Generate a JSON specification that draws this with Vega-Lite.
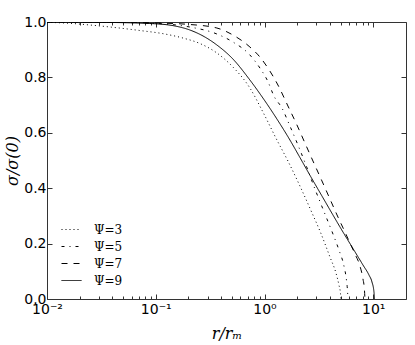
{
  "$schema": "https://vega.github.io/schema/vega-lite/v6.json",
  "width": 359,
  "height": 277,
  "autosize": {"type": "none"},
  "padding": {"left": 47, "top": 22, "right": 9, "bottom": 46},
  "background": "white",
  "config": {
    "view": {"stroke": null},
    "axis": {
      "grid": false,
      "labelFont": "DejaVu Sans",
      "labelFontSize": 14,
      "labelColor": "black",
      "labelFlush": false,
      "labelOverlap": false,
      "domainColor": "#333",
      "domainWidth": 1,
      "tickColor": "#333",
      "tickWidth": 1,
      "titleFont": "DejaVu Serif",
      "titleFontStyle": "italic",
      "titleFontWeight": "normal",
      "titleFontSize": 16,
      "titleColor": "black"
    }
  },
  "datasets": {
    "curves": [
      {"psi": "Ψ=3", "r": 0.01, "s": 0.9989},
      {"psi": "Ψ=3", "r": 0.01621, "s": 0.9953},
      {"psi": "Ψ=3", "r": 0.02475, "s": 0.9892},
      {"psi": "Ψ=3", "r": 0.04204, "s": 0.9801},
      {"psi": "Ψ=3", "r": 0.07142, "s": 0.9693},
      {"psi": "Ψ=3", "r": 0.1213, "s": 0.9567},
      {"psi": "Ψ=3", "r": 0.1775, "s": 0.9422},
      {"psi": "Ψ=3", "r": 0.2545, "s": 0.9224},
      {"psi": "Ψ=3", "r": 0.3648, "s": 0.8881},
      {"psi": "Ψ=3", "r": 0.5122, "s": 0.8375},
      {"psi": "Ψ=3", "r": 0.734, "s": 0.7617},
      {"psi": "Ψ=3", "r": 0.9667, "s": 0.6751},
      {"psi": "Ψ=3", "r": 1.3004, "s": 0.574},
      {"psi": "Ψ=3", "r": 1.642, "s": 0.4982},
      {"psi": "Ψ=3", "r": 2.117, "s": 0.4079},
      {"psi": "Ψ=3", "r": 2.7882, "s": 0.3032},
      {"psi": "Ψ=3", "r": 3.234, "s": 0.2455},
      {"psi": "Ψ=3", "r": 3.9974, "s": 0.1516},
      {"psi": "Ψ=3", "r": 4.539, "s": 0.0939},
      {"psi": "Ψ=3", "r": 4.836, "s": 0.0505},
      {"psi": "Ψ=3", "r": 4.992, "s": 0.0217},
      {"psi": "Ψ=3", "r": 5.046, "s": 0.0},

      {"psi": "Ψ=5", "r": 0.01, "s": 1.0},
      {"psi": "Ψ=5", "r": 0.03059, "s": 0.9993},
      {"psi": "Ψ=5", "r": 0.08824, "s": 0.9957},
      {"psi": "Ψ=5", "r": 0.2059, "s": 0.9819},
      {"psi": "Ψ=5", "r": 0.3648, "s": 0.9567},
      {"psi": "Ψ=5", "r": 0.5122, "s": 0.9278},
      {"psi": "Ψ=5", "r": 0.734, "s": 0.8809},
      {"psi": "Ψ=5", "r": 0.9072, "s": 0.8339},
      {"psi": "Ψ=5", "r": 1.0747, "s": 0.7852},
      {"psi": "Ψ=5", "r": 1.2204, "s": 0.7329},
      {"psi": "Ψ=5", "r": 1.4456, "s": 0.6895},
      {"psi": "Ψ=5", "r": 1.7126, "s": 0.6245},
      {"psi": "Ψ=5", "r": 2.0295, "s": 0.556},
      {"psi": "Ψ=5", "r": 2.4034, "s": 0.4838},
      {"psi": "Ψ=5", "r": 2.9088, "s": 0.3971},
      {"psi": "Ψ=5", "r": 3.595, "s": 0.3069},
      {"psi": "Ψ=5", "r": 4.26, "s": 0.2347},
      {"psi": "Ψ=5", "r": 4.836, "s": 0.1769},
      {"psi": "Ψ=5", "r": 5.377, "s": 0.1191},
      {"psi": "Ψ=5", "r": 5.669, "s": 0.0686},
      {"psi": "Ψ=5", "r": 5.79, "s": 0.0325},
      {"psi": "Ψ=5", "r": 5.851, "s": 0.0},

      {"psi": "Ψ=7", "r": 0.01, "s": 1.0},
      {"psi": "Ψ=7", "r": 0.03059, "s": 0.9996},
      {"psi": "Ψ=7", "r": 0.08824, "s": 0.9971},
      {"psi": "Ψ=7", "r": 0.2059, "s": 0.991},
      {"psi": "Ψ=7", "r": 0.3648, "s": 0.9783},
      {"psi": "Ψ=7", "r": 0.5122, "s": 0.9531},
      {"psi": "Ψ=7", "r": 0.734, "s": 0.9097},
      {"psi": "Ψ=7", "r": 0.9072, "s": 0.8736},
      {"psi": "Ψ=7", "r": 1.0747, "s": 0.8339},
      {"psi": "Ψ=7", "r": 1.3284, "s": 0.7726},
      {"psi": "Ψ=7", "r": 1.642, "s": 0.6968},
      {"psi": "Ψ=7", "r": 1.987, "s": 0.6282},
      {"psi": "Ψ=7", "r": 2.353, "s": 0.5632},
      {"psi": "Ψ=7", "r": 2.7882, "s": 0.4982},
      {"psi": "Ψ=7", "r": 3.375, "s": 0.426},
      {"psi": "Ψ=7", "r": 3.9974, "s": 0.361},
      {"psi": "Ψ=7", "r": 4.734, "s": 0.296},
      {"psi": "Ψ=7", "r": 5.492, "s": 0.2419},
      {"psi": "Ψ=7", "r": 6.104, "s": 0.2022},
      {"psi": "Ψ=7", "r": 6.789, "s": 0.1625},
      {"psi": "Ψ=7", "r": 7.545, "s": 0.1191},
      {"psi": "Ψ=7", "r": 8.043, "s": 0.0722},
      {"psi": "Ψ=7", "r": 8.299, "s": 0.0325},
      {"psi": "Ψ=7", "r": 8.387, "s": 0.0},

      {"psi": "Ψ=9", "r": 0.01, "s": 1.0},
      {"psi": "Ψ=9", "r": 0.01803, "s": 0.9996},
      {"psi": "Ψ=9", "r": 0.03059, "s": 0.9989},
      {"psi": "Ψ=9", "r": 0.08824, "s": 0.9946},
      {"psi": "Ψ=9", "r": 0.15, "s": 0.9856},
      {"psi": "Ψ=9", "r": 0.2059, "s": 0.9711},
      {"psi": "Ψ=9", "r": 0.2829, "s": 0.9458},
      {"psi": "Ψ=9", "r": 0.3648, "s": 0.917},
      {"psi": "Ψ=9", "r": 0.5122, "s": 0.8664},
      {"psi": "Ψ=9", "r": 0.734, "s": 0.7906},
      {"psi": "Ψ=9", "r": 0.9667, "s": 0.7256},
      {"psi": "Ψ=9", "r": 1.3004, "s": 0.6498},
      {"psi": "Ψ=9", "r": 1.7126, "s": 0.574},
      {"psi": "Ψ=9", "r": 2.117, "s": 0.5108},
      {"psi": "Ψ=9", "r": 2.6726, "s": 0.4404},
      {"psi": "Ψ=9", "r": 3.375, "s": 0.3718},
      {"psi": "Ψ=9", "r": 4.26, "s": 0.3032},
      {"psi": "Ψ=9", "r": 5.264, "s": 0.2419},
      {"psi": "Ψ=9", "r": 6.507, "s": 0.1823},
      {"psi": "Ψ=9", "r": 8.043, "s": 0.1227},
      {"psi": "Ψ=9", "r": 9.131, "s": 0.0866},
      {"psi": "Ψ=9", "r": 9.73, "s": 0.0614},
      {"psi": "Ψ=9", "r": 10.15, "s": 0.0253},
      {"psi": "Ψ=9", "r": 10.26, "s": 0.0}
    ]
  },
  "layer": [
    {
      "data": {"name": "curves"},
      "mark": {"type": "line", "color": "black", "strokeWidth": 1, "clip": true, "interpolate": "monotone"},
      "encoding": {
        "x": {
          "field": "r", "type": "quantitative",
          "scale": {"type": "log", "domain": [0.01, 20], "nice": false},
          "axis": {
            "orient": "bottom",
            "values": [0.01, 0.1, 1, 10],
            "labelExpr": "datum.value < 0.05 ? '10⁻²' : datum.value < 0.5 ? '10⁻¹' : datum.value < 5 ? '10⁰' : '10¹'",
            "tickSize": -5,
            "labelPadding": 8,
            "title": "r/rₘ",
            "titlePadding": 9
          }
        },
        "y": {
          "field": "s", "type": "quantitative",
          "scale": {"domain": [0, 1], "nice": false, "zero": false},
          "axis": {
            "orient": "left",
            "values": [0, 0.2, 0.4, 0.6, 0.8, 1.0],
            "format": ".1f",
            "tickSize": -5,
            "labelPadding": 6,
            "title": "σ/σ(0)",
            "titlePadding": 3
          }
        },
        "strokeDash": {
          "field": "psi", "type": "nominal",
          "scale": {"domain": ["Ψ=3", "Ψ=5", "Ψ=7", "Ψ=9"], "range": [[1, 3], [3, 5, 1, 5], [6, 6], [1, 0]]},
          "legend": {
            "orient": "none",
            "legendX": 14,
            "legendY": 197,
            "title": null,
            "padding": 0,
            "symbolType": "stroke",
            "symbolSize": 400,
            "symbolStrokeWidth": 1,
            "symbolStrokeColor": "black",
            "labelFont": "DejaVu Serif",
            "labelFontSize": 12,
            "labelColor": "black",
            "labelOffset": 12,
            "rowPadding": -2.5
          }
        }
      }
    },
    {
      "data": {"name": "curves"},
      "mark": {"type": "line", "opacity": 0},
      "encoding": {
        "x": {
          "field": "r", "type": "quantitative",
          "axis": {"orient": "top", "values": [0.01, 0.1, 1, 10], "labels": false, "tickSize": -5, "title": null}
        },
        "y": {
          "field": "s", "type": "quantitative",
          "axis": {"orient": "right", "values": [0, 0.2, 0.4, 0.6, 0.8, 1.0], "labels": false, "tickSize": -5, "title": null}
        }
      }
    },
    {
      "data": {"name": "curves"},
      "mark": {"type": "line", "opacity": 0},
      "encoding": {
        "x": {
          "field": "r", "type": "quantitative",
          "axis": {"orient": "bottom", "values": [0.02, 0.03, 0.04, 0.05, 0.06, 0.07, 0.08, 0.09, 0.2, 0.3, 0.4, 0.5, 0.6, 0.7, 0.8, 0.9, 2, 3, 4, 5, 6, 7, 8, 9], "labels": false, "domain": false, "tickSize": -3, "title": null}
        },
        "y": {"field": "s", "type": "quantitative", "axis": null}
      }
    },
    {
      "data": {"name": "curves"},
      "mark": {"type": "line", "opacity": 0},
      "encoding": {
        "x": {
          "field": "r", "type": "quantitative",
          "axis": {"orient": "top", "values": [0.02, 0.03, 0.04, 0.05, 0.06, 0.07, 0.08, 0.09, 0.2, 0.3, 0.4, 0.5, 0.6, 0.7, 0.8, 0.9, 2, 3, 4, 5, 6, 7, 8, 9], "labels": false, "domain": false, "tickSize": -3, "title": null}
        },
        "y": {"field": "s", "type": "quantitative", "axis": null}
      }
    },
    {
      "mark": {"type": "text", "text": "γ=10", "font": "DejaVu Serif", "fontSize": 12, "align": "center", "baseline": "middle", "color": "black"},
      "encoding": {
        "x": {"datum": 8.2, "type": "quantitative", "axis": null},
        "y": {"datum": 0.812, "type": "quantitative", "axis": null}
      }
    }
  ],
  "resolve": {"axis": {"x": "independent", "y": "independent"}}
}
